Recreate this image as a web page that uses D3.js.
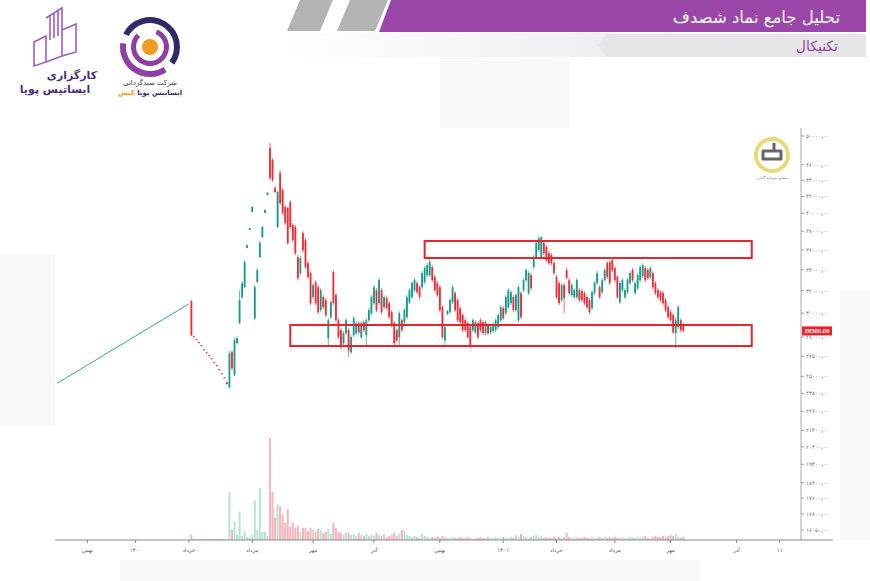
<!DOCTYPE html>
<html><head><meta charset="utf-8">
<script src="https://cdn.jsdelivr.net/npm/d3@7"></script>
<style>html,body{margin:0;padding:0;background:#fff;}svg{display:block;font-family:"DejaVu Sans",sans-serif;}</style>
</head><body><svg id="c" width="870" height="581"></svg>
<script>
// ---------- DATA ----------
// early period: daily closes of the thin rising line
const earlyClose = [24520,24600,24720,24810,24940,25040,25160,25260,25380,25470,25600,25710,25830,25940,26060,26170,26290,26400,26520,26640,26760,26870,27000,27110,27230,27350,27470,27590,27710,27840,27960,28080,28210,28330,28460,28580,28710,28840,28960,29090,29220,29350,29480,29610,29740,29870,30000,30130,30260,30400,30530,30670,30800];

const open = [31050,28070,27830,27590,27350,27030,26800,26570,26340,26040,25810,25510,25220,24930,24580,
24230,26800,25080,27510,29140,31420,32330,36190,38120,40150,
29560,32800,35260,37360,40040,42170,48300,46660,43030,38450,
44940,42790,40740,40620,41330,38670,38450,35260,33670,37790,
37030,34650,33670,31420,32800,32330,30260,31420,31140,27910,
29650,33770,31600,29390,28560,27510,28310,28560,26800,28150,
28310,29140,27990,29220,28150,29390,29990,30870,32050,30870,
32050,30520,31330,30870,30080,29140,28560,27990,29390,29220,
29650,30960,31420,32050,32710,32330,32330,32800,33480,33480,
34250,33290,32710,32330,30520,27740,29910,30080,30960,31780,
31140,30430,29820,29390,29140,28810,28560,28390,29140,29390,
29220,28310,28970,28390,28480,28560,28810,29390,30430,29990,
30520,30870,31420,30260,29390,31780,32050,32990,31780,33480,
34250,35260,35980,35260,36720,36300,35670,35470,34650,33290,
32710,31140,32520,33960,32990,31600,31420,31420,32050,31960,
31780,31420,31140,30430,31780,32710,32330,31870,32990,34650,
34750,34950,34160,33290,30960,32050,31420,31870,32710,33960,
31780,32240,32990,33380,34160,33960,33290,33670,32710,32050,
31870,31780,31140,30520,30080,29820,28310,28810,29390,28970];

const high = [31140,28070,27830,27590,27350,27030,26800,26570,26340,26040,25810,25510,25220,24930,24580,
26880,26950,27910,28070,32050,32900,34950,36510,38340,40860,
32520,34160,36930,38560,40500,42540,49000,46925,43290,42660,
45330,43030,40970,40740,41566,38900,38670,35470,35370,38010,
37250,34850,33860,32710,32990,32520,32240,31600,31330,29560,
31140,33960,31780,29560,28720,28480,29560,28720,28150,29740,
29310,29310,29310,29390,29560,30430,31600,32520,32240,33190,
32240,31600,31510,31050,30260,29310,28720,30170,29560,30430,
31600,32240,32900,33190,32900,32520,33860,34350,34650,35060,
34450,33480,32900,32520,30690,28970,30260,31330,32520,31960,
31330,30610,29990,29560,29310,28970,29560,29390,29310,29560,
29390,29390,29140,28970,29220,29560,29990,30690,30610,31600,
32240,32050,31600,31780,32520,31960,33190,34160,33860,33670,
35470,36930,37460,37460,36930,36510,35870,35670,34850,33480,
32900,32710,32710,34250,33190,32710,32240,33190,32240,32150,
31960,31600,31330,32050,32900,33860,32520,33190,34160,34850,
34950,35160,34350,33480,32900,33190,32240,33190,33860,34160,
32900,33670,34450,34650,34350,34160,34350,33860,32900,32240,
32050,31960,31330,30690,30260,29990,29650,30690,29560,29140];

const low = [28070,27990,27740,27510,27270,26950,26720,26500,26270,25960,25740,25440,25150,24860,24440,
24160,25440,25010,27430,29050,31230,32240,36190,38120,40150,
29390,32710,35160,37250,40040,42170,44040,43790,42420,38340,
40970,39810,38670,36510,38230,36830,35470,32990,33480,35770,
34060,33090,30690,31230,30690,29910,30080,30340,29650,27190,
29480,30690,29220,27830,27030,27350,28150,26420,26650,27990,
28150,28230,27830,28390,27190,29220,29820,30690,30080,30690,
29910,30340,30260,29480,28810,27350,27590,27190,28390,29060,
29480,30780,31230,31870,31690,31230,32150,32610,33290,33290,
32800,31870,31420,30080,27830,27190,29820,29910,30780,30080,
29220,29060,28390,28390,27830,27190,28390,28230,27830,28390,
28150,28150,28150,28230,28310,28390,28640,29220,29390,29820,
30340,30690,30080,30080,29220,29480,31870,32800,31600,32050,
34060,35060,35770,35060,35470,34750,34450,34450,33480,31230,
30690,30960,29990,33090,31600,31420,31230,31230,30960,30960,
30690,30340,29910,30260,31600,32520,31230,31690,32800,33090,
32520,33770,32800,31230,30780,31870,31230,31690,32520,32800,
31600,32050,32800,33190,32800,32990,33090,32150,31600,31230,
30960,30690,30080,29480,29220,28230,27110,28640,28390,28390];

const close = [28150,27990,27740,27510,27270,26950,26720,26500,26270,25960,25740,25440,25150,24860,24440,
26720,25590,27740,27910,31140,32710,34750,36510,38340,40740,
32330,33960,36720,38450,40380,42420,44300,44040,42540,42540,
41210,40040,38900,36720,38450,37030,35670,33190,35160,35980,
34250,33290,30870,32520,30870,30080,32050,30520,29820,29390,
30960,30870,29390,27990,27190,28310,29390,26950,27990,29560,
29140,28390,29140,28560,29390,30260,31420,32330,30260,32990,
30080,31420,30430,29650,28970,27510,27740,29990,28560,30260,
31420,32050,32710,32990,31870,31420,33670,34160,34450,34750,
32990,32050,31600,30260,27990,28810,30170,31140,32330,30260,
29390,29220,28560,28560,27990,27350,29390,29220,27990,28560,
28310,29220,28310,28810,29050,29390,29820,30520,29560,31420,
32050,31870,30260,31600,32330,29650,32990,33960,33670,32240,
35260,36720,37250,37360,35670,34950,34650,34650,33670,31420,
30870,32520,31330,33190,31780,32520,32050,32990,31140,31140,
30870,30520,30080,31870,32710,33670,31420,32990,33960,33290,
32710,33960,32990,31420,32710,32990,32050,32990,33670,32990,
32710,33480,34250,34450,32990,33190,34160,32330,31780,31420,
31140,30870,30260,29650,29390,28390,29390,30520,28560,28500];

const volume = [5,1,1,1,1,1,1,1,1,1,1,1,1,1,1,
47,10,18,5,28,4,9,3,2,5,
39,10,51,8,8,4,100,47,22,35,
33,25,17,30,13,17,12,14,8,12,
12,9,12,10,8,11,10,7,8,11,
6,17,12,8,7,5,7,7,5,6,
4,7,5,4,6,4,5,4,7,5,
4,6,3,4,5,7,4,6,10,9,
5,4,3,4,3,2,6,4,3,2,
3,2,3,2,4,3,2,2,3,2,
2,3,2,2,3,2,1,2,2,3,
2,2,3,2,2,3,2,2,3,2,
2,3,2,5,3,6,4,3,2,3,
4,5,3,4,2,3,2,2,3,2,
3,2,3,7,3,2,2,3,2,2,
3,2,2,3,2,2,3,2,3,2,
3,2,3,2,2,3,2,2,3,2,
2,3,2,3,4,2,2,3,4,3,
3,4,3,4,5,4,6,3,2,3];

const priceTicks = [50000,46000,44000,42000,40000,38000,36000,34000,32000,30000,28000,26500,25000,23800,22600,21400,20400,19400,18400,17600,16800,16050];
const monthTickIdx = [12,31,52,77,101,125,151,176,197,220,242,268,285];
const monthLabels = ["بهمن","۱۴۰۰","خرداد","مرداد","مهر","آذر","بهمن","۱۴۰۱","خرداد","مرداد","مهر","آذر","۱۱"];
const zoneStart = [145, 92];
const zoneEnd = [274, 274];
const zoneTop = [36940, 28990];
const zoneBottom = [35170, 27285];
const lastPrice = 28500;

// ---------- DRAW ----------
const svg = d3.select("#c");
const UP = "#15998a", DOWN = "#ec2b36", VUP = "#b8e3d4", VDOWN = "#f6b4bb";
const fa = s => String(s).replace(/\d/g, d => "۰۱۲۳۴۵۶۷۸۹"[d]);

// faint page decorations
svg.append("rect").attr("x",0).attr("y",0).attr("width",870).attr("height",581).attr("fill","#fff");
[[0,255,55,170],[120,560,580,21],[840,290,30,250],[440,58,130,72]].forEach(r=>
  svg.append("rect").attr("x",r[0]).attr("y",r[1]).attr("width",r[2]).attr("height",r[3]).attr("fill","#f9f9f9"));
svg.append("rect").attr("x",55).attr("y",128).attr("width",746).attr("height",412).attr("fill","#fff");

// header
const defs = svg.append("defs");
const g1 = defs.append("linearGradient").attr("id","fade").attr("x1","0").attr("x2","1");
g1.append("stop").attr("offset","0").attr("stop-color","#ffffff");
g1.append("stop").attr("offset","1").attr("stop-color","#eeeef0");
svg.append("rect").attr("x",280).attr("y",33).attr("width",330).attr("height",24).attr("fill","url(#fade)");
svg.append("polygon").attr("points","300,0 333,0 320,31 287,31").attr("fill","#b3b3b3");
svg.append("polygon").attr("points","350,0 388,0 375,31 337,31").attr("fill","#b3b3b3");
svg.append("polygon").attr("points","391,0 866,0 866,32 379,32").attr("fill","#9a47a9");
svg.append("text").attr("x",840).attr("y",23).attr("text-anchor","end").attr("font-size",16.5).attr("fill","#fff").text("تحلیل جامع نماد شصدف");
svg.append("polygon").attr("points","606,34 866,34 866,57 606,57 598,45.5").attr("fill","#e6e6e8");
svg.append("text").attr("x",838).attr("y",51).attr("text-anchor","end").attr("font-size",14).attr("fill","#9a47a9").text("تکنیکال");

// left logo (building)
const lg = svg.append("g").attr("fill","none").attr("stroke","#9b5fc0").attr("stroke-width",1.6);
lg.append("path").attr("d","M34,42 L46,36 L46,62 L34,66 Z");
lg.append("path").attr("d","M46,18 L62,8 L62,56 L46,62");
lg.append("path").attr("d","M50,16 V40 M54,13 V38 M58,11 V36");
lg.append("path").attr("d","M62,30 L76,24 L76,52 L62,56");
svg.append("text").attr("x",72).attr("y",79).attr("text-anchor","middle").attr("font-size",11).attr("font-weight","bold").attr("fill","#4b2f7f").text("کارگزاری");
svg.append("text").attr("x",55).attr("y",93).attr("text-anchor","middle").attr("font-size",11).attr("font-weight","bold").attr("fill","#4b2f7f").text("ایساتیس پویا");

// circle logo
const cl = svg.append("g").attr("transform","translate(150,47)");
cl.append("path").attr("d",d3.arc()({innerRadius:24,outerRadius:30,startAngle:-1.1,endAngle:2.2})).attr("fill","#2d2a66");
cl.append("path").attr("d",d3.arc()({innerRadius:24,outerRadius:30,startAngle:2.55,endAngle:4.85})).attr("fill","#8e3fa3");
cl.append("path").attr("d",d3.arc()({innerRadius:14,outerRadius:19,startAngle:0.4,endAngle:5.5})).attr("fill","#8e3fa3");
cl.append("circle").attr("r",8).attr("fill","#f39c1f");
svg.append("text").attr("x",150).attr("y",85).attr("text-anchor","middle").attr("font-size",7).attr("fill","#333").text("شرکت سبدگردانی");
const t2 = svg.append("text").attr("x",150).attr("y",95).attr("text-anchor","middle").attr("font-size",7).attr("font-weight","bold").attr("fill","#2d2a66");
t2.append("tspan").text("ایساتیس پویا ");
t2.append("tspan").attr("fill","#f39c1f").text("کیش");

// watermark logo
svg.append("circle").attr("cx",772).attr("cy",155).attr("r",16).attr("fill","#fff").attr("stroke","#ead97c").attr("stroke-width",4);
svg.append("path").attr("d","M763,151 h18 v8 h-18 z M774,143 v8").attr("fill","none").attr("stroke","#666").attr("stroke-width",3).attr("stroke-linejoin","round");
svg.append("text").attr("x",772).attr("y",179).attr("text-anchor","middle").attr("font-size",3.5).attr("fill","#777").text("مشاور سرمایه گذاری");

// scales
const x = d3.scaleLinear().domain([0,295]).range([57,805]);
const y = d3.scaleLog().domain([16050,50000]).range([530,136]);
const yv = d3.scaleLinear().domain([0,100]).range([540,438]);
const base = earlyClose.length;
const bars = close.map((c,i)=>({i:base+i,o:open[i],h:high[i],l:low[i],c:c,v:volume[i]}));

// volume
svg.append("g").selectAll("rect").data(bars).join("rect")
  .attr("x",d=>x(d.i)-1).attr("width",2)
  .attr("y",d=>yv(d.v)).attr("height",d=>540-yv(d.v))
  .attr("fill",d=>d.c>=d.o?VUP:VDOWN);

// early line
svg.append("path").datum(earlyClose)
  .attr("d",d3.line().x((d,i)=>x(i)).y(d=>y(d)))
  .attr("fill","none").attr("stroke",UP).attr("stroke-width",0.9);

// candles
const cg = svg.append("g");
cg.selectAll("line").data(bars).join("line")
  .attr("x1",d=>x(d.i)).attr("x2",d=>x(d.i))
  .attr("y1",d=>y(d.h)).attr("y2",d=>y(d.l))
  .attr("stroke",d=>d.c>=d.o?UP:DOWN).attr("stroke-width",0.7);
cg.selectAll("rect").data(bars).join("rect")
  .attr("x",d=>x(d.i)-0.9).attr("width",1.8)
  .attr("y",d=>y(Math.max(d.o,d.c)))
  .attr("height",d=>Math.max(1,Math.abs(y(d.o)-y(d.c))))
  .attr("fill",d=>d.c>=d.o?UP:DOWN);

// zones
zoneStart.forEach((s,k)=>{
  svg.append("rect").attr("x",x(s)).attr("y",y(zoneTop[k]))
    .attr("width",x(zoneEnd[k])-x(s)).attr("height",y(zoneBottom[k])-y(zoneTop[k]))
    .attr("fill","none").attr("stroke","#e3262d").attr("stroke-width",2);
});

// y axis
svg.append("line").attr("x1",801).attr("x2",801).attr("y1",128).attr("y2",540).attr("stroke","#aaa");
const ya = svg.append("g");
ya.selectAll("line").data(priceTicks).join("line")
  .attr("x1",801).attr("x2",804).attr("y1",d=>y(d)).attr("y2",d=>y(d)).attr("stroke","#999");
ya.selectAll("text").data(priceTicks).join("text")
  .attr("x",806).attr("y",d=>y(d)+2).attr("font-size",5.6).attr("fill","#6a6a6a")
  .text(d=>fa(d)+"٫۰۰");
// last price label
svg.append("rect").attr("x",802).attr("y",y(lastPrice)-4.5).attr("width",30).attr("height",9).attr("fill","#f01e2c");
svg.append("text").attr("x",817).attr("y",y(lastPrice)+2.2).attr("text-anchor","middle").attr("font-size",6).attr("font-weight","bold").attr("fill","#fff").attr("font-family","Arial, Liberation Sans").text(lastPrice.toFixed(2));

// x axis
svg.append("line").attr("x1",55).attr("x2",833).attr("y1",540).attr("y2",540).attr("stroke","#888");
const xa = svg.append("g");
xa.selectAll("line").data(monthTickIdx).join("line")
  .attr("x1",d=>x(d)).attr("x2",d=>x(d)).attr("y1",540).attr("y2",543).attr("stroke","#888");
xa.selectAll("text").data(monthTickIdx).join("text")
  .attr("x",d=>x(d)).attr("y",552).attr("text-anchor","middle").attr("font-size",5.5).attr("fill","#555")
  .text((d,i)=>monthLabels[i]);
</script></body></html>
